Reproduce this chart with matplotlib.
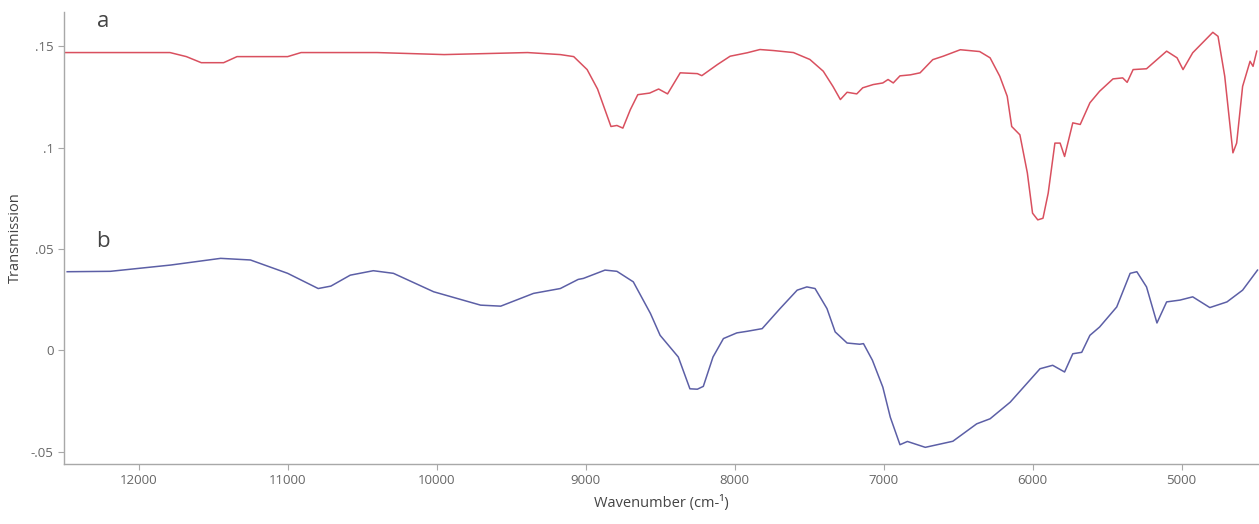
import matplotlib
matplotlib.use("Agg")
import matplotlib.pyplot as plt

# spectrum a (red)
wn_a = [12500, 11990, 11790, 11680, 11580, 11430, 11340, 11000, 10910, 10400, 9950,
        9390, 9170, 9080, 8990, 8920, 8830, 8790, 8750, 8700, 8650,
        8570, 8510, 8450, 8365, 8250, 8220, 8115, 8030, 7915, 7830,
        7740, 7605, 7495, 7405, 7340, 7290, 7245, 7180, 7140, 7070,
        7005, 6970, 6935, 6890, 6820, 6755, 6670, 6600, 6485, 6355,
        6285, 6220, 6170, 6140, 6085, 6035, 6000, 5965, 5930, 5895,
        5850, 5815, 5785, 5730, 5680, 5615, 5550, 5460, 5395, 5365,
        5325, 5235, 5100, 5030, 4990, 4925, 4790, 4755, 4710, 4655,
        4630, 4590, 4540, 4520, 4495]
tr_a = [0.147, 0.147, 0.147, 0.145, 0.142, 0.142, 0.145, 0.145, 0.147, 0.147, 0.146,
        0.147, 0.146, 0.145, 0.1386, 0.129, 0.1105, 0.111, 0.1097, 0.1188, 0.1262,
        0.127, 0.129, 0.1266, 0.137, 0.1366, 0.1356, 0.1411, 0.1452, 0.1469, 0.1485,
        0.148, 0.147, 0.1436, 0.1378, 0.1303, 0.1238, 0.1274, 0.1266, 0.1296, 0.1312,
        0.132, 0.1337, 0.132, 0.1355, 0.136, 0.137, 0.1435, 0.1452, 0.1484, 0.1475,
        0.1444, 0.1353, 0.1254, 0.1105, 0.1064, 0.0876, 0.0677, 0.0644, 0.0652, 0.0776,
        0.1023, 0.1023, 0.0957, 0.1123, 0.1115, 0.1222, 0.1279, 0.134, 0.1345, 0.1323,
        0.1386, 0.139, 0.1477, 0.1444, 0.1386, 0.1469, 0.157, 0.155, 0.1353, 0.0975,
        0.1023, 0.1303, 0.1427, 0.1402, 0.1477]

# spectrum b (blue)
wn_b = [12480, 12190, 11785, 11450, 11250, 11000, 10795, 10710, 10580, 10425,
        10290, 10020, 9705, 9570, 9350, 9170, 9050, 9015, 8870, 8790,
        8680, 8565, 8500, 8378, 8300, 8250, 8210, 8145, 8075, 7985,
        7915, 7815, 7695, 7580, 7515, 7460, 7380, 7325, 7245, 7160,
        7135, 7075, 7005, 6955, 6890, 6840, 6720, 6535, 6375, 6285,
        6150, 5950, 5865, 5785, 5730, 5670, 5615, 5550, 5435, 5345,
        5300, 5235, 5165, 5100, 5010, 4925, 4810, 4695, 4590, 4490]
tr_b = [0.0388, 0.039, 0.0421, 0.0454, 0.0446, 0.038, 0.0305, 0.0317, 0.0371, 0.0393,
        0.038, 0.0289, 0.0223, 0.0218, 0.0281, 0.0305, 0.035, 0.0355, 0.0396, 0.039,
        0.0338, 0.0182, 0.0074, -0.0033, -0.019, -0.0192, -0.0178, -0.0033, 0.0058, 0.0086,
        0.0094, 0.0107, 0.0206, 0.0297, 0.0313, 0.0305, 0.0206, 0.0091, 0.0036, 0.003,
        0.0033, -0.0049, -0.0182, -0.033, -0.0466, -0.045, -0.0479, -0.0449, -0.0363, -0.0338,
        -0.0256, -0.0091, -0.0074, -0.0107, -0.0017, -0.001, 0.0074, 0.0115, 0.0214, 0.038,
        0.0388, 0.0313, 0.0135, 0.0239, 0.0248, 0.0264, 0.0211, 0.0239, 0.0297, 0.0396]

xticks = [12000, 11000, 10000, 9000, 8000, 7000, 6000, 5000]
yticks = [-0.05, 0, 0.05, 0.1, 0.15]
ytick_labels = ["-.05", "0", ".05", ".1", ".15"]

plt.rcParams["font.family"] = ["Open Sans", "DejaVu Sans"]

fig = plt.figure(figsize=(12.59, 5.24), dpi=100)
ax = fig.add_axes([0.051, 0.115, 0.949, 0.862])

ax.plot(wn_a, tr_a, color="#d9505f", lw=1.1)
ax.plot(wn_b, tr_b, color="#5c5fa6", lw=1.1)

ax.set_xlim(12500, 4480)
ax.set_ylim(-0.056, 0.167)
ax.set_xticks(xticks)
ax.set_xticklabels([str(t) for t in xticks])
ax.set_yticks(yticks)
ax.set_yticklabels(ytick_labels)

for s in ["top", "right"]:
    ax.spines[s].set_visible(False)
for s in ["left", "bottom"]:
    ax.spines[s].set_color("#a8a8a8")
    ax.spines[s].set_linewidth(1.0)
ax.tick_params(colors="#a8a8a8", labelcolor="#666666", labelsize=9.5, length=4, width=0.8)

ax.set_xlabel("Wavenumber (cm-¹)", fontsize=10.5, color="#444444", labelpad=6)
ax.set_ylabel("Transmission", fontsize=10.5, color="#444444", labelpad=6)

ax.text(12240, 0.1595, "a", fontsize=16, color="#444444", ha="center")
ax.text(12240, 0.051, "b", fontsize=16, color="#444444", ha="center")

fig.savefig("out.png", dpi=100)
